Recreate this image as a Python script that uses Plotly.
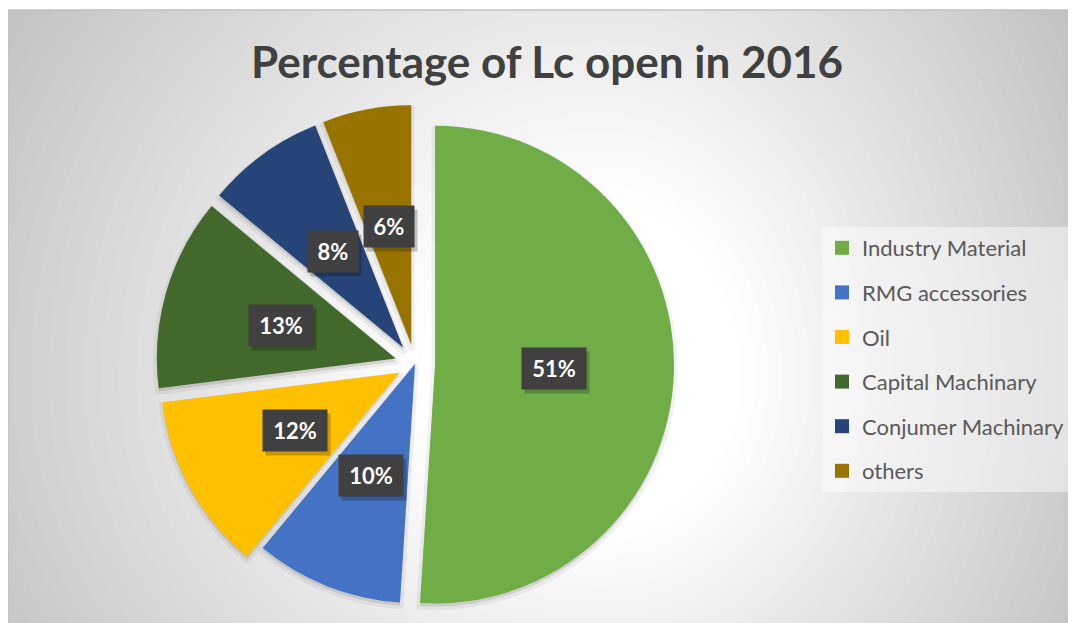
import math
import plotly.graph_objects as go

# ---------------- data ----------------
categories = ["Industry Material", "RMG accessories", "Oil",
              "Capital Machinary", "Conjumer Machinary", "others"]
shares = [51, 10, 12, 13, 8, 6]
title_text = "Percentage of Lc open in 2016"

# ---------------- style ----------------
colors = ["#70AD47", "#4472C4", "#FFC000", "#43682B", "#264478", "#997300"]
pulls = [0.084, 0.0, 0.075, 0.084, 0.084, 0.084]
FONT = "Lato"

W, H = 1076, 623
OFF = 8  # page offset of the figure (default body margin)
# pie domain (page pixels)
DX0, DX1 = 156, 674
DY_TOP, DY_BOT = 105, 623

def px2paper(x, y):
    return (x - OFF) / W, 1 - (y - OFF) / H

fig = go.Figure()

pdx0, pdy1 = px2paper(DX0, DY_TOP)
pdx1, pdy0 = px2paper(DX1, DY_BOT)

# soft shadow under the slices
sh = 3 / H
fig.add_trace(go.Pie(
    labels=categories, values=shares, sort=False, direction="clockwise",
    rotation=0, pull=pulls,
    marker=dict(colors=["rgba(0,0,0,0.10)"] * len(shares),
                line=dict(width=7, color="rgba(0,0,0,0.05)")),
    textinfo="none", hoverinfo="skip", showlegend=False,
    domain=dict(x=[pdx0, pdx1], y=[pdy0 - sh, pdy1 - sh]),
))

fig.add_trace(go.Pie(
    labels=categories, values=shares, sort=False, direction="clockwise",
    rotation=0, pull=pulls, marker=dict(colors=colors, line=dict(width=0)),
    textinfo="none", hoverinfo="label+percent", showlegend=False,
    domain=dict(x=[pdx0, pdx1], y=[pdy0, pdy1]),
))

# legend proxies (one legend group each so spacing can be set)
for name, col in zip(categories, colors):
    fig.add_trace(go.Scatter(
        x=[None], y=[None], mode="markers", name=name, legendgroup=name,
        marker=dict(symbol="square", size=14, color=col),
        hoverinfo="skip"))

# ---------------- percentage labels (computed from the data) ----------------
cx = (DX0 + DX1) / 2
cy = (DY_TOP + DY_BOT) / 2
r = min(DX1 - DX0, DY_BOT - DY_TOP) / 2 / (1 + max(pulls))
total = sum(shares)
annotations = []
cum = 0
for v, p in zip(shares, pulls):
    mid = (cum + v / 2) / total * 2 * math.pi
    cum += v
    dist = p * r + 0.5 * r
    x = cx + dist * math.sin(mid)
    y = cy - dist * math.cos(mid)
    xp, yp = px2paper(x, y)
    txt = f"{round(100 * v / total)}%"
    common = dict(x=xp, y=yp, xref="paper", yref="paper", showarrow=False,
                  borderpad=9, height=23, width=14 * len(txt) + 4,
                  xanchor="center", yanchor="middle")
    # drop shadow box (no text)
    annotations.append(dict(**common, text="&nbsp;", bgcolor="rgba(0,0,0,0.22)",
                            font=dict(family=FONT, size=22, color="rgba(0,0,0,0)"),
                            xshift=3, yshift=-4))
    annotations.append(dict(**common, text=f"<b>{txt}</b>", bgcolor="#404040",
                            font=dict(family=FONT, size=22, color="white")))

# ---------------- background gradient ----------------
XC, YC = 600, 380
AX_L, AX_R, AY_T, AY_B = 600, 470, 600, 500

def gray(t):
    g = 255 - 69.4 * max(0.0, t - 0.3)
    g = int(max(190, min(255, round(g))))
    return f"rgb({g},{g},{g})"

shapes = []
FX0, FY0 = 8, 10
x0p, y1p = px2paper(FX0, FY0)
shapes.append(dict(type="rect", xref="paper", yref="paper", x0=-0.1, x1=1.1,
                   y0=-0.1, y1=1.1, fillcolor=gray(1.6), line=dict(width=0),
                   layer="below"))
nlev = 45
for k in range(nlev):
    t = 1.6 - k * (1.6 - 0.3) / (nlev - 1)
    pts = []
    for a in range(0, 360, 4):
        ca, sa = math.cos(math.radians(a)), math.sin(math.radians(a))
        ax = AX_R if ca > 0 else AX_L
        ay = AY_B if sa > 0 else AY_T
        px = XC + t * ax * ca
        py = YC + t * ay * sa
        qx, qy = px2paper(px, py)
        pts.append(f"{qx:.5f},{qy:.5f}")
    path = "M" + " L".join(pts) + " Z"
    shapes.append(dict(type="path", xref="paper", yref="paper", path=path,
                       fillcolor=gray(t), line=dict(width=0), layer="below"))
# white outside the chart frame (top strip)
shapes.append(dict(type="rect", xref="paper", yref="paper", x0=-0.1, x1=1.1,
                   y0=y1p, y1=1.1, fillcolor="white", line=dict(width=0),
                   layer="below"))
shapes.append(dict(type="line", xref="paper", yref="paper", x0=x0p, x1=1,
                   y0=y1p, y1=y1p, line=dict(color="#c0c0c0", width=1.5),
                   layer="below"))
shapes.append(dict(type="line", xref="paper", yref="paper", x0=0.0005, x1=0.0005,
                   y0=-0.1, y1=y1p, line=dict(color="#c4c4c4", width=1),
                   layer="below"))

tx, ty = px2paper(547, 63)
lx, ly = px2paper(822, 227)
fig.update_layout(
    width=W, height=H,
    margin=dict(l=0, r=0, t=0, b=0),
    paper_bgcolor="white", plot_bgcolor="rgba(0,0,0,0)",
    xaxis=dict(visible=False), yaxis=dict(visible=False),
    title=dict(text=f"<b>{title_text}</b>", x=tx, y=ty,
               xanchor="center", yanchor="middle", xref="paper", yref="container",
               font=dict(family=FONT, size=44, color="#404040")),
    legend=dict(x=lx, y=ly, xanchor="left", yanchor="top",
                bgcolor="rgba(255,255,255,0.45)", borderwidth=0,
                font=dict(family=FONT, size=22, color="#595959"),
                tracegroupgap=13, traceorder="grouped", itemwidth=30),
    shapes=shapes, annotations=annotations,
    showlegend=True,
)

fig.write_html("out.html")
